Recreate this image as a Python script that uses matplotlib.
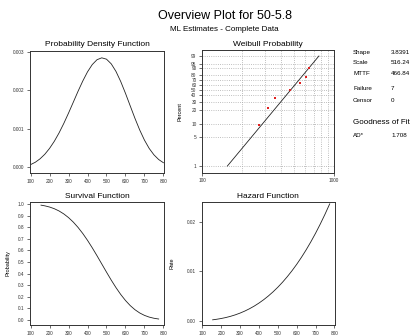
import numpy as np
import matplotlib
matplotlib.use('Agg')
import matplotlib.pyplot as plt
from matplotlib.ticker import FixedLocator, NullLocator, FixedFormatter, NullFormatter

plt.rcParams['font.family'] = ['Liberation Sans', 'DejaVu Sans']

# ---- data ----
pdf_x = [100, 125, 150, 175, 200, 225, 250, 275, 300, 325, 350, 375, 400, 425, 450,
         475, 500, 525, 550, 575, 600, 625, 650, 675, 700, 725, 750, 775, 800]
pdf_y = [0.0000703, 0.000132, 0.000221, 0.000339, 0.000491, 0.000675, 0.000892, 0.001138,
         0.001407, 0.001688, 0.001971, 0.002238, 0.002476, 0.002665, 0.002791, 0.002840,
         0.002805, 0.002684, 0.002487, 0.002225, 0.001920, 0.001594, 0.001270, 0.000969,
         0.000706, 0.000490, 0.000324, 0.000202, 0.000119]

fail_x = [268, 317, 359, 467, 557, 615, 645]
fail_pct = [9.46, 22.97, 36.49, 50.0, 63.51, 77.03, 90.54]
fit_x = [155.7, 768.5]
fit_pct = [1, 99]

surv_x = [155, 175, 200, 225, 250, 275, 300, 325, 350, 375, 400, 425, 450,
          475, 500, 525, 550, 575, 600, 625, 650, 675, 700, 725, 750, 775]
surv_y = [0.9902, 0.9844, 0.9741, 0.9596, 0.9401, 0.9147, 0.8829, 0.8443, 0.7985,
          0.7460, 0.6870, 0.6226, 0.5542, 0.4836, 0.4130, 0.3441, 0.2793, 0.2203,
          0.1685, 0.1245, 0.0888, 0.0608, 0.0400, 0.0251, 0.0151, 0.0086]
haz_y = [0.000244, 0.000345, 0.000504, 0.000704, 0.000949, 0.001244, 0.001593, 0.001999,
         0.002468, 0.003000, 0.003604, 0.004281, 0.005036, 0.005872, 0.006791, 0.007801,
         0.008904, 0.010099, 0.011394, 0.012796, 0.014304, 0.015923, 0.017653, 0.019504,
         0.021474, 0.02357]

pct_ticks = [1, 5, 10, 20, 30, 40, 50, 60, 70, 80, 90, 95, 99]
stat_names = ['Shape', 'Scale', 'MTTF', 'Failure', 'Censor']
stat_vals = ['3.8391', '516.24', '466.84', '7', '0']

W, H = 413, 335
fig = plt.figure(figsize=(W / 100, H / 100), dpi=100)


def box(l, t, r, b):
    return fig.add_axes([l / W, 1 - b / H, (r - l) / W, (b - t) / H])


def style(ax):
    for s in ax.spines.values():
        s.set_linewidth(0.7)
        s.set_color('#333333')
    ax.tick_params(labelsize=3.4, length=2.5, width=0.5, pad=1.5, colors='#333333')


lc = '#222222'
lw = 0.6
x_ticks = [100, 200, 300, 400, 500, 600, 700, 800]

# PDF
ax1 = box(30, 50.5, 164, 173)
ax1.plot(pdf_x, pdf_y, color=lc, lw=lw)
ax1.set_xlim(97, 803)
ax1.set_ylim(-0.000147, 0.00303)
ax1.set_xticks(x_ticks)
ax1.set_yticks([0, 0.001, 0.002, 0.003])
ax1.set_yticklabels(['0.000', '0.001', '0.002', '0.003'])
style(ax1)
ax1.set_title('Probability Density Function', fontsize=6, pad=3)

# Weibull probability
def fwd(p):
    p = np.clip(np.asarray(p, float), 1e-6, 100 - 1e-6)
    return np.log(-np.log(1 - p / 100.0))


def inv(w):
    return 100.0 * (1 - np.exp(-np.exp(w)))


ax2 = box(202, 50, 334, 172.7)
ax2.set_xscale('log')
ax2.set_yscale('function', functions=(fwd, inv))
ax2.set_xlim(100, 1000)
ax2.set_ylim(0.69, 99.84)
ax2.yaxis.set_major_locator(FixedLocator(pct_ticks))
ax2.yaxis.set_major_formatter(FixedFormatter([str(t) for t in pct_ticks]))
ax2.yaxis.set_minor_locator(NullLocator())
ax2.xaxis.set_major_locator(FixedLocator([100, 1000]))
ax2.xaxis.set_major_formatter(FixedFormatter(['100', '1000']))
ax2.xaxis.set_minor_locator(FixedLocator([200, 300, 400, 500, 600, 700, 800, 900]))
ax2.xaxis.set_minor_formatter(NullFormatter())
ax2.grid(True, which='both', color='#aaaaaa', ls=':', lw=0.6)
ax2.plot(fit_x, fit_pct, color=lc, lw=lw)
ax2.plot(fail_x, fail_pct, 's', color='#e02020', ms=2.1, mew=0)
style(ax2)
ax2.tick_params(which='minor', length=0)
ax2.set_ylabel('Percent', fontsize=4, labelpad=6)
ax2.set_title('Weibull Probability', fontsize=6, pad=3)

# Survival
ax3 = box(30, 201.7, 164, 325)
ax3.plot(surv_x, surv_y, color=lc, lw=lw)
ax3.set_xlim(97, 803)
ax3.set_ylim(-0.043, 1.02)
ax3.set_xticks(x_ticks)
ax3.set_yticks(np.arange(0, 11) / 10)
ax3.set_yticklabels(['%.1f' % v for v in np.arange(0, 11) / 10])
style(ax3)
ax3.set_ylabel('Probability', fontsize=4, labelpad=5)
ax3.set_title('Survival Function', fontsize=6, pad=3)

# Hazard
ax4 = box(201.7, 201.7, 335, 325)
ax4.plot(surv_x, haz_y, color=lc, lw=lw)
ax4.set_xlim(97, 803)
ax4.set_ylim(-0.0008, 0.024)
ax4.set_xticks(x_ticks)
ax4.set_yticks([0, 0.01, 0.02])
ax4.set_yticklabels(['0.00', '0.01', '0.02'])
style(ax4)
ax4.set_ylabel('Rate', fontsize=4, labelpad=9)
ax4.set_title('Hazard Function', fontsize=6, pad=3)

# titles
fig.text(225 / W, 1 - 16 / H, 'Overview Plot for 50-5.8', ha='center', va='center', fontsize=9)
fig.text(224 / W, 1 - 29.3 / H, 'ML Estimates - Complete Data', ha='center', va='center', fontsize=5.8)

# stats table
ys = [52.3, 62.7, 73.7, 88.3, 100.7]
for name, val, y in zip(stat_names, stat_vals, ys):
    fig.text(353 / W, 1 - y / H, name, fontsize=4.5, va='center')
    fig.text(391 / W, 1 - y / H, val, fontsize=4.5, va='center')
fig.text(353 / W, 1 - 122 / H, 'Goodness of Fit', fontsize=5.8, va='center')
fig.text(353 / W, 1 - 135.7 / H, 'AD*', fontsize=4.5, va='center')
fig.text(391 / W, 1 - 135.7 / H, '1.708', fontsize=4.5, va='center')

fig.savefig('out.png', dpi=100)
